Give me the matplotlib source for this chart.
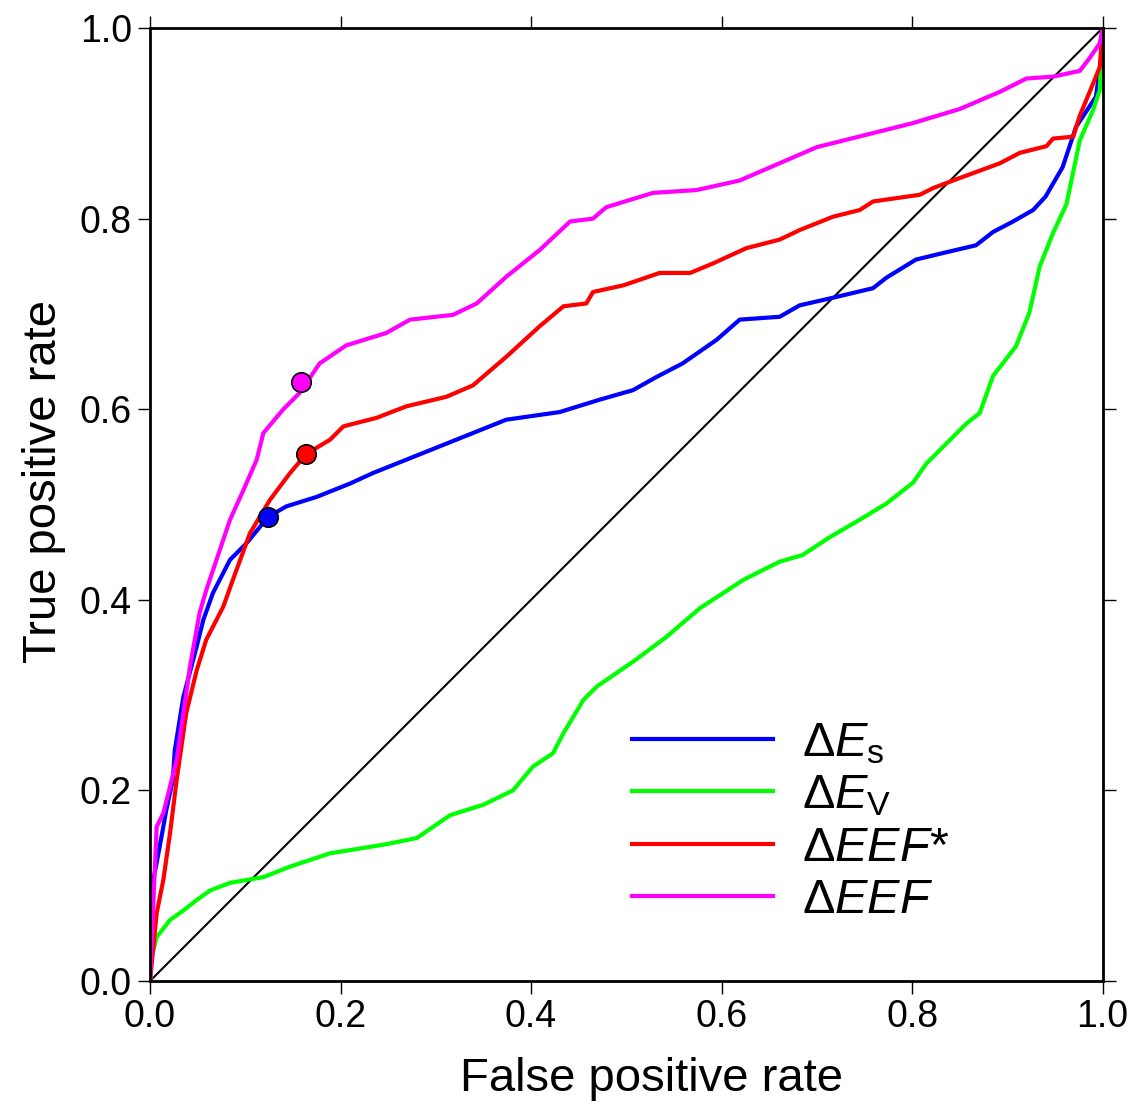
import matplotlib
matplotlib.use("Agg")
import matplotlib.pyplot as plt

plt.rcParams["font.family"] = ["Liberation Sans", "DejaVu Sans"]
plt.rcParams["mathtext.fontset"] = "custom"
plt.rcParams["mathtext.rm"] = "Liberation Sans"
plt.rcParams["mathtext.it"] = "Liberation Sans:italic"

# ROC curves (false positive rate, true positive rate)
es_fpr = [0.0, 0.002, 0.007, 0.014, 0.017, 0.024, 0.026, 0.035, 0.049, 0.056, 0.066,
          0.084, 0.101, 0.124, 0.143, 0.175, 0.21, 0.234, 0.304, 0.374, 0.43, 0.472,
          0.507, 0.532, 0.559, 0.595, 0.619, 0.661, 0.682, 0.717, 0.759, 0.773, 0.804,
          0.833, 0.867, 0.885, 0.906, 0.927, 0.94, 0.958, 0.972, 0.993, 1.0, 1.0]
es_tpr = [0.0, 0.099, 0.124, 0.162, 0.179, 0.211, 0.242, 0.298, 0.351, 0.379, 0.407,
          0.442, 0.459, 0.487, 0.498, 0.508, 0.522, 0.533, 0.561, 0.589, 0.597, 0.61,
          0.62, 0.634, 0.648, 0.673, 0.694, 0.697, 0.709, 0.717, 0.727, 0.738, 0.757,
          0.764, 0.772, 0.786, 0.797, 0.809, 0.823, 0.854, 0.896, 0.928, 0.98, 1.0]

ev_fpr = [0.0, 0.002, 0.007, 0.021, 0.035, 0.049, 0.063, 0.084, 0.119, 0.147, 0.189,
          0.245, 0.28, 0.315, 0.35, 0.381, 0.402, 0.423, 0.434, 0.455, 0.469, 0.507,
          0.542, 0.577, 0.623, 0.661, 0.685, 0.714, 0.745, 0.773, 0.801, 0.815, 0.836,
          0.857, 0.871, 0.885, 0.909, 0.923, 0.934, 0.948, 0.962, 0.976, 0.99, 0.997, 1.0]
ev_tpr = [0.0, 0.026, 0.046, 0.064, 0.074, 0.085, 0.095, 0.103, 0.109, 0.12, 0.134,
          0.143, 0.15, 0.174, 0.185, 0.2, 0.225, 0.239, 0.26, 0.295, 0.309, 0.335,
          0.361, 0.391, 0.421, 0.44, 0.447, 0.466, 0.484, 0.501, 0.523, 0.543, 0.564,
          0.585, 0.596, 0.635, 0.666, 0.701, 0.75, 0.785, 0.815, 0.882, 0.914, 0.935, 1.0]

eefs_fpr = [0.0, 0.007, 0.014, 0.021, 0.028, 0.038, 0.049, 0.059, 0.077, 0.087, 0.105,
            0.126, 0.147, 0.164, 0.189, 0.203, 0.238, 0.269, 0.311, 0.339, 0.374, 0.409,
            0.434, 0.458, 0.465, 0.497, 0.535, 0.567, 0.591, 0.626, 0.661, 0.682, 0.717,
            0.745, 0.759, 0.808, 0.822, 0.843, 0.892, 0.913, 0.941, 0.948, 0.969, 0.976,
            0.986, 0.997, 1.0]
eefs_tpr = [0.0, 0.071, 0.106, 0.155, 0.211, 0.281, 0.326, 0.358, 0.393, 0.421, 0.47,
            0.505, 0.533, 0.553, 0.568, 0.582, 0.591, 0.603, 0.613, 0.625, 0.655, 0.687,
            0.708, 0.711, 0.723, 0.73, 0.743, 0.743, 0.753, 0.769, 0.778, 0.788, 0.802,
            0.809, 0.818, 0.825, 0.832, 0.84, 0.858, 0.869, 0.876, 0.884, 0.886, 0.908,
            0.932, 0.959, 1.0]

eef_fpr = [0.0, 0.007, 0.014, 0.028, 0.042, 0.052, 0.059, 0.084, 0.098, 0.112, 0.119,
           0.14, 0.157, 0.178, 0.206, 0.248, 0.273, 0.318, 0.343, 0.374, 0.409, 0.441,
           0.465, 0.479, 0.528, 0.574, 0.619, 0.7, 0.8, 0.85, 0.892, 0.92, 0.948, 0.976,
           0.986, 0.997, 1.0]
eef_tpr = [0.0, 0.162, 0.176, 0.232, 0.33, 0.386, 0.41, 0.484, 0.515, 0.547, 0.575,
           0.6, 0.617, 0.648, 0.667, 0.68, 0.694, 0.699, 0.711, 0.739, 0.767, 0.797,
           0.8, 0.812, 0.827, 0.83, 0.84, 0.875, 0.9, 0.915, 0.933, 0.947, 0.949, 0.955,
           0.968, 0.984, 1.0]

# optimal operating points
es_pt = (0.124, 0.487)
eefs_pt = (0.164, 0.553)
eef_pt = (0.159, 0.629)

labels = [r"$\Delta\mathit{E}_\mathrm{s}$", r"$\Delta\mathit{E}_\mathrm{V}$",
          r"$\Delta\mathit{EEF}$*", r"$\Delta\mathit{EEF}$"]
colors = ["#0000ff", "#00ff00", "#ff0000", "#ff00ff"]

fig = plt.figure(figsize=(11.45, 11.03), dpi=100)
ax = fig.add_axes([0.131, 0.1106, 0.832, 0.864])

ax.plot([0, 1], [0, 1], color="black", lw=1.5)
ax.plot(es_fpr, es_tpr, color=colors[0], lw=3, label=labels[0])
ax.plot(ev_fpr, ev_tpr, color=colors[1], lw=3, label=labels[1])
ax.plot(eefs_fpr, eefs_tpr, color=colors[2], lw=3, label=labels[2])
ax.plot(eef_fpr, eef_tpr, color=colors[3], lw=3, label=labels[3])

for pt, c in zip([es_pt, eefs_pt, eef_pt], [colors[0], colors[2], colors[3]]):
    ax.plot(pt[0], pt[1], "o", ms=14, mfc=c, mec="black", mew=1.2)

ax.set_xlim(0, 1)
ax.set_ylim(0, 1)
ax.set_xticks([0, 0.2, 0.4, 0.6, 0.8, 1.0])
ax.set_yticks([0, 0.2, 0.4, 0.6, 0.8, 1.0])
ax.set_xticklabels(["0.0", "0.2", "0.4", "0.6", "0.8", "1.0"])
ax.set_yticklabels(["0.0", "0.2", "0.4", "0.6", "0.8", "1.0"])
ax.tick_params(direction="out", length=9, width=1, labelsize=27,
               top=True, right=True, pad=4)
for s in ax.spines.values():
    s.set_linewidth(2)

ax.set_xlabel("False positive rate", fontsize=34, labelpad=16)
ax.set_ylabel("True positive rate", fontsize=34, labelpad=10)
# labels sit a little off-centre in the original
ax.xaxis.label.set_x(0.526)
ax.yaxis.label.set_y(0.524)

ax.legend(loc="lower right", bbox_to_anchor=(0.885, 0.015), frameon=False,
          fontsize=35, handlelength=2.9, handletextpad=0.6, labelspacing=0.15)

fig.savefig("out.png", dpi=100)
